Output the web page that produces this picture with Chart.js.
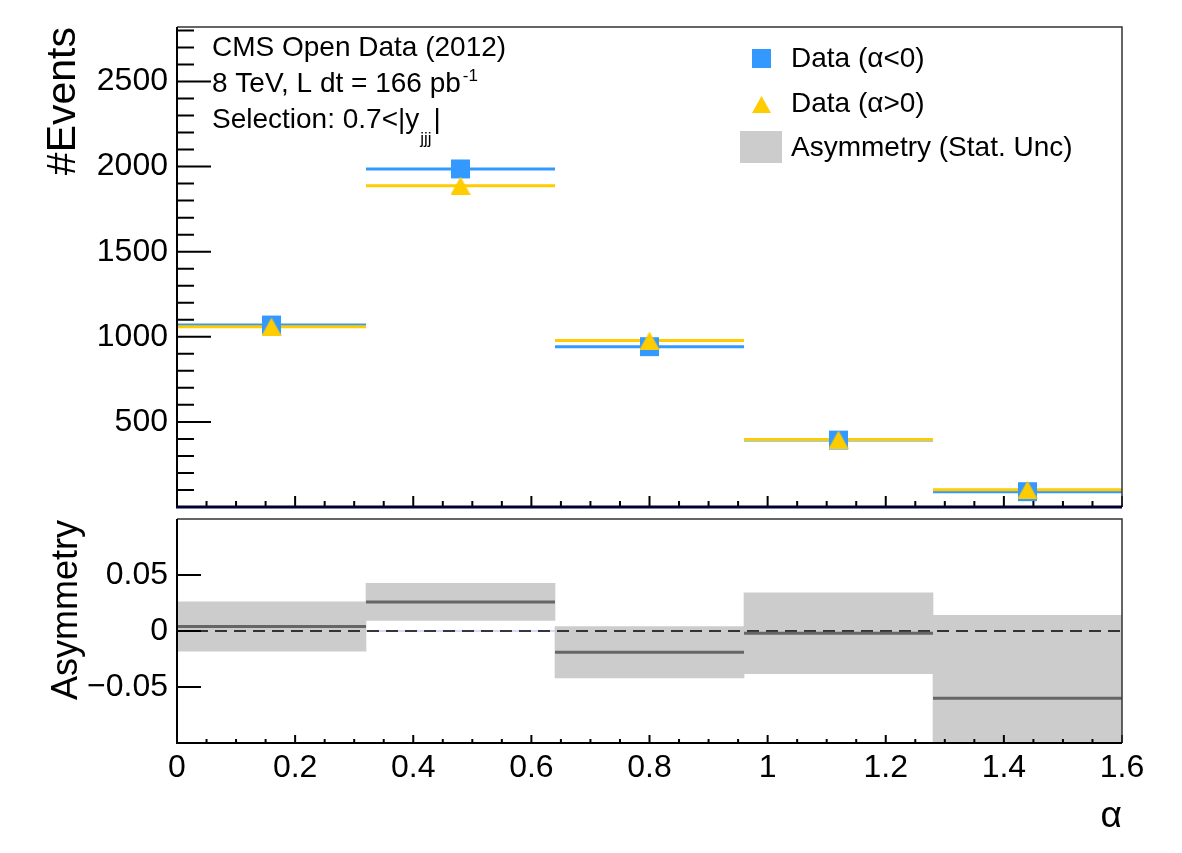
<!DOCTYPE html>
<html lang="en">
<head>
<meta charset="UTF-8">
<title>Asymmetry vs alpha</title>
<style>
    body {
        margin: 0;
        background: #ffffff;
    }
    .wrap {
        position: relative;
        width: 1182px;
        height: 853px;
    }
    .wrap canvas {
        position: absolute;
        left: 0;
    }
    #topPad { top: 0; }
    #botPad { top: 515px; }
</style>
</head>
<body>
<div class="wrap">
    <canvas id="topPad" width="1182" height="515"></canvas>
    <canvas id="botPad" width="1182" height="338"></canvas>
</div>
<script src="https://cdn.jsdelivr.net/npm/chart.js@4.4.0/dist/chart.umd.min.js"></script>
<script>
// bins in alpha
const binEdges = [0, 0.32, 0.64, 0.96, 1.28, 1.6];
// events per bin
const eventsNeg = [1069, 1986, 942, 393, 90];   // Data (alpha<0)
const eventsPos = [1059, 1888, 978, 396, 102];  // Data (alpha>0)
// asymmetry and stat. uncertainty
const asymValues = [0.004, 0.026, -0.019, -0.002, -0.060];
const asymErrors = [0.022, 0.0165, 0.023, 0.036, 0.074];
// tick labels
const eventTicks = [500, 1000, 1500, 2000, 2500];
const asymTicks = [-0.05, 0, 0.05];
const alphaTicks = [0, 0.2, 0.4, 0.6, 0.8, 1, 1.2, 1.4, 1.6];

const FONT = '"Liberation Sans", Arial, Helvetica, sans-serif';
const BLUE = '#3399ff';
const YELLOW = '#ffcc00';

const centers = binEdges.slice(0, -1).map((e, i) => (e + binEdges[i + 1]) / 2);

// horizontal bar over each bin, broken between bins
function binSegments(vals) {
    const pts = [];
    vals.forEach((v, i) => {
        pts.push({x: binEdges[i], y: v}, {x: binEdges[i + 1], y: v}, {x: binEdges[i + 1], y: null});
    });
    return pts;
}

// triangle marker centred on its box, like ROOT
function triangleMarker(w, h, color) {
    const c = document.createElement('canvas');
    c.width = w;
    c.height = h;
    const g = c.getContext('2d');
    g.fillStyle = color;
    g.beginPath();
    g.moveTo(w / 2, 0);
    g.lineTo(w, h);
    g.lineTo(0, h);
    g.closePath();
    g.fill();
    return c;
}

// no label padding, the frame is placed by hand
function noPad(s) {
    s.paddingTop = 0;
    s.paddingBottom = 0;
    s.paddingLeft = 0;
    s.paddingRight = 0;
}

// ROOT-like frame with inward ticks
const rootFrame = {
    id: 'rootFrame',
    afterDatasetsDraw(chart, args, o) {
        const {ctx, chartArea: a} = chart;
        const x = chart.scales.x, y = chart.scales.y;
        ctx.save();
        ctx.strokeStyle = '#000';
        ctx.lineWidth = 2;
        ctx.beginPath();
        let n = Math.round((x.max - x.min) / o.xMinor);
        for (let i = 0; i <= n; i++) {
            const v = x.min + i * o.xMinor;
            const major = i % o.xEvery === 0;
            const px = x.getPixelForValue(v);
            ctx.moveTo(px, a.bottom);
            ctx.lineTo(px, a.bottom - (major ? o.xMajorLen : o.xMinorLen));
        }
        n = Math.floor((y.max - y.min) / o.yMinor + 1e-6);
        for (let i = 1; i <= n; i++) {
            const v = y.min + i * o.yMinor;
            if (Math.abs(v - y.max) < 1e-9) continue;
            const major = i % o.yEvery === 0;
            const py = y.getPixelForValue(v);
            ctx.moveTo(a.left, py);
            ctx.lineTo(a.left + (major ? o.yMajorLen : o.yMinorLen), py);
        }
        ctx.stroke();

        // top / right borders
        ctx.strokeStyle = '#333';
        ctx.lineWidth = 1.5;
        ctx.beginPath();
        ctx.moveTo(a.left, a.top);
        ctx.lineTo(a.right, a.top);
        ctx.lineTo(a.right, a.bottom);
        ctx.stroke();
        // left axis
        ctx.strokeStyle = '#000';
        ctx.lineWidth = 2;
        ctx.beginPath();
        ctx.moveTo(a.left, a.top);
        ctx.lineTo(a.left, a.bottom);
        ctx.stroke();
        // bottom axis
        ctx.strokeStyle = o.bottomColor;
        ctx.lineWidth = o.bottomWidth;
        ctx.beginPath();
        ctx.moveTo(a.left - 1, a.bottom);
        ctx.lineTo(a.right, a.bottom);
        ctx.stroke();
        ctx.restore();
    }
};

const topText = {
    id: 'topText',
    afterDraw(chart) {
        const ctx = chart.ctx;
        ctx.save();
        ctx.fillStyle = '#000';
        ctx.textBaseline = 'alphabetic';
        ctx.textAlign = 'left';

        // info text
        ctx.font = '28px ' + FONT;
        ctx.fillText('CMS Open Data (2012)', 212, 56);
        let s = '8 TeV, L dt = 166 pb';
        ctx.fillText(s, 212, 92);
        let w = ctx.measureText(s).width;
        ctx.font = '17px ' + FONT;
        ctx.fillText('-1', 212 + w + 2, 81);
        ctx.font = '28px ' + FONT;
        s = 'Selection: 0.7<|y';
        ctx.fillText(s, 212, 128);
        w = ctx.measureText(s).width;
        ctx.font = '17px ' + FONT;
        ctx.fillText('jjj', 212 + w + 1, 144);
        const w2 = ctx.measureText('jjj').width;
        ctx.font = '28px ' + FONT;
        ctx.fillText('|', 212 + w + w2 + 3, 128);

        // legend
        ctx.fillStyle = BLUE;
        ctx.fillRect(752, 49, 19, 19);
        ctx.fillStyle = YELLOW;
        ctx.beginPath();
        ctx.moveTo(761.5, 96);
        ctx.lineTo(771, 113);
        ctx.lineTo(752, 113);
        ctx.closePath();
        ctx.fill();
        ctx.fillStyle = '#cccccc';
        ctx.fillRect(740, 131, 42, 32);
        ctx.fillStyle = '#000';
        ctx.fillText('Data (\u03b1<0)', 791, 67);
        ctx.fillText('Data (\u03b1>0)', 791, 112);
        ctx.fillText('Asymmetry (Stat. Unc)', 791, 156);

        // y title
        ctx.translate(75, 27);
        ctx.rotate(-Math.PI / 2);
        ctx.textAlign = 'right';
        ctx.font = '41px ' + FONT;
        ctx.fillText('#Events', 0, 0);
        ctx.restore();
    }
};

const botText = {
    id: 'botText',
    afterDraw(chart) {
        const ctx = chart.ctx;
        ctx.save();
        ctx.fillStyle = '#000';
        ctx.textBaseline = 'alphabetic';
        ctx.font = '37px ' + FONT;
        ctx.textAlign = 'right';
        ctx.fillText('\u03b1', 1122, 312);
        ctx.translate(77, 5);
        ctx.rotate(-Math.PI / 2);
        ctx.font = '36px ' + FONT;
        ctx.fillText('Asymmetry', 0, 0);
        ctx.restore();
    }
};

const tickFont = {family: FONT, size: 32};

new Chart(document.getElementById('topPad'), {
    type: 'scatter',
    data: {
        datasets: [
            {
                label: 'Data (\u03b1>0)',
                data: centers.map((x, i) => ({x: x, y: eventsPos[i]})),
                pointStyle: triangleMarker(20, 18, YELLOW),
                pointRadius: 10,
                backgroundColor: YELLOW,
                borderWidth: 0,
                order: 0
            },
            {
                label: 'Data (\u03b1<0)',
                data: centers.map((x, i) => ({x: x, y: eventsNeg[i]})),
                pointStyle: 'rect',
                pointRadius: 13.4,
                backgroundColor: BLUE,
                borderWidth: 0,
                order: 1
            },
            {
                type: 'line',
                data: binSegments(eventsPos),
                borderColor: YELLOW,
                borderWidth: 3,
                pointRadius: 0,
                fill: false,
                order: 2
            },
            {
                type: 'line',
                data: binSegments(eventsNeg),
                borderColor: BLUE,
                borderWidth: 3,
                pointRadius: 0,
                fill: false,
                order: 3
            }
        ]
    },
    options: {
        responsive: false,
        animation: false,
        events: [],
        layout: {autoPadding: false, padding: {top: 27, right: 60, bottom: 8, left: 0}},
        plugins: {
            legend: {display: false},
            tooltip: {enabled: false},
            rootFrame: {
                xMinor: 0.05, xEvery: 4, xMajorLen: 11, xMinorLen: 6,
                yMinor: 100, yEvery: 5, yMajorLen: 34, yMinorLen: 17,
                bottomColor: '#000033', bottomWidth: 3
            }
        },
        scales: {
            x: {
                type: 'linear',
                min: 0,
                max: 1.6,
                display: false,
                ticks: {display: false},
                grid: {drawTicks: false},
                afterFit(s) { s.height = 0; noPad(s); }
            },
            y: {
                type: 'linear',
                min: 0,
                max: 2820,
                afterFit(s) { s.width = 177; noPad(s); },
                afterBuildTicks(s) { s.ticks = eventTicks.map(v => ({value: v})); },
                grid: {display: false, drawTicks: false},
                border: {display: false},
                ticks: {padding: 9, color: '#000', font: tickFont, callback: v => String(v)}
            }
        }
    },
    plugins: [rootFrame, topText]
});

new Chart(document.getElementById('botPad'), {
    type: 'scatter',
    data: {
        datasets: [
            {
                type: 'line',
                data: binSegments(asymValues),
                borderColor: '#666666',
                borderWidth: 3,
                pointRadius: 0,
                fill: false,
                order: 0
            },
            {
                type: 'line',
                data: [{x: 0, y: 0}, {x: 1.6, y: 0}],
                borderColor: '#000',
                borderWidth: 1.5,
                borderDash: [12, 7],
                pointRadius: 0,
                fill: false,
                order: 1
            },
            {
                type: 'bar',
                xAxisID: 'xbin',
                data: centers.map((x, i) => ({x: x, y: [asymValues[i] - asymErrors[i], asymValues[i] + asymErrors[i]]})),
                backgroundColor: '#cccccc',
                borderWidth: 0,
                barPercentage: 1,
                categoryPercentage: 1,
                grouped: false,
                clip: 0,
                order: 2
            },
            {
                type: 'line',
                data: [{x: 0, y: 0}, {x: 1.6, y: 0}],
                borderColor: '#aab4ff',
                borderWidth: 1,
                pointRadius: 0,
                fill: false,
                order: 3
            }
        ]
    },
    options: {
        responsive: false,
        animation: false,
        events: [],
        layout: {autoPadding: false, padding: {top: 4, right: 60, bottom: 0, left: 0}},
        plugins: {
            legend: {display: false},
            tooltip: {enabled: false},
            rootFrame: {
                xMinor: 0.05, xEvery: 4, xMajorLen: 8, xMinorLen: 4,
                yMinor: 0.05, yEvery: 1, yMajorLen: 24, yMinorLen: 24,
                bottomColor: '#000', bottomWidth: 2
            }
        },
        scales: {
            x: {
                type: 'linear',
                min: 0,
                max: 1.6,
                offset: false,
                afterFit(s) { s.height = 110; noPad(s); },
                afterBuildTicks(s) { s.ticks = alphaTicks.map(v => ({value: v})); },
                grid: {display: false, offset: false, drawTicks: false},
                border: {display: false},
                ticks: {padding: 6, color: '#000', font: tickFont, autoSkip: false, maxRotation: 0, callback: v => String(v)}
            },
            xbin: {
                type: 'linear',
                min: 0,
                max: 1.6,
                offset: false,
                display: false,
                afterBuildTicks(s) { s.ticks = binEdges.map(v => ({value: v})); }
            },
            y: {
                type: 'linear',
                min: -0.1,
                max: 0.1,
                afterFit(s) { s.width = 177; noPad(s); },
                afterBuildTicks(s) { s.ticks = asymTicks.map(v => ({value: v})); },
                grid: {display: false, drawTicks: false},
                border: {display: false},
                ticks: {
                    padding: 9, color: '#000', font: tickFont,
                    callback: v => v === 0 ? '0' : (v < 0 ? '\u2212' : '') + Math.abs(v).toFixed(2)
                }
            }
        }
    },
    plugins: [rootFrame, botText]
});
</script>
</body>
</html>
